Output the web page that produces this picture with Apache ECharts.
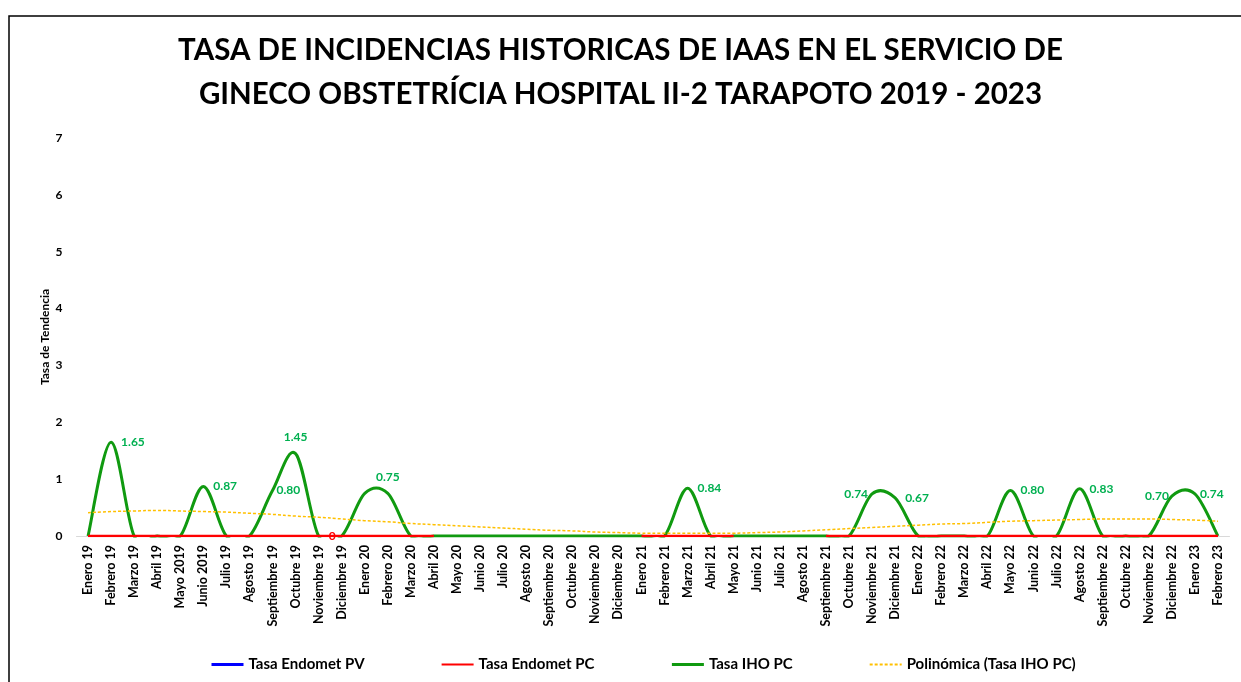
<!DOCTYPE html>
<html>
<head>
<meta charset="utf-8">
<script src="https://cdn.jsdelivr.net/npm/echarts@6/dist/echarts.min.js"></script>
<style>
  html, body { margin: 0; padding: 0; background: #fff; }
  #chart { width: 1241px; height: 682px; }
</style>
</head>
<body>
<div id="chart"></div>
<script>
const months = [
  'Enero 19', 'Febrero 19', 'Marzo 19', 'Abril 19', 'Mayo 2019', 'Junio 2019', 'Julio 19', 'Agosto 19',
  'Septiembre 19', 'Octubre 19', 'Noviembre 19', 'Diciembre 19', 'Enero 20', 'Febrero 20', 'Marzo 20',
  'Abril 20', 'Mayo 20', 'Junio 20', 'Julio 20', 'Agosto 20', 'Septiembre 20', 'Octubre 20', 'Noviembre 20',
  'Diciembre 20', 'Enero 21', 'Febrero 21', 'Marzo 21', 'Abril 21', 'Mayo 21', 'Junio 21', 'Julio 21',
  'Agosto 21', 'Septiembre 21', 'Octubre 21', 'Noviembre 21', 'Diciembre 21', 'Enero 22', 'Febrero 22',
  'Marzo 22', 'Abril 22', 'Mayo 22', 'Junio 22', 'Julio 22', 'Agosto 22', 'Septiembre 22', 'Octubre 22',
  'Noviembre 22', 'Diciembre 22', 'Enero 23', 'Febrero 23'
];

// Tasa Endomet PV (sin datos visibles en el grafico)
const endometPV = [
  null, null, null, null, null, null, null, null, null, null, null, null, null, null, null,
  null, null, null, null, null, null, null, null, null, null, null, null, null, null, null,
  null, null, null, null, null, null, null, null, null, null, null, null, null, null, null,
  null, null, null, null, null
];

// Tasa Endomet PC (huecos donde se ve la linea verde)
const endometPC = [
  0, 0, 0, 0, 0, 0, 0, 0, 0, 0, 0, 0, 0, 0, 0,
  0, null, null, null, null, null, null, null, null, 0, 0, 0, 0, 0, null,
  null, null, 0, 0, 0, 0, 0, 0, 0, 0, 0, 0, 0, 0, 0,
  0, 0, 0, 0, 0
];

// Tasa IHO PC
const ihoPC = [
  0, 1.65, 0, 0, 0, 0.87, 0, 0, 0.80, 1.45, 0, 0, 0.75, 0.75, 0,
  0, 0, 0, 0, 0, 0, 0, 0, 0, 0, 0, 0.84, 0, 0, 0,
  0, 0, 0, 0, 0.74, 0.67, 0, 0, 0, 0, 0.80, 0, 0, 0.83, 0,
  0, 0, 0.70, 0.74, 0
];

// Polinómica (Tasa IHO PC)
const trendIHO = [
  0.41, 0.43, 0.44, 0.45, 0.44, 0.43, 0.42, 0.40, 0.38, 0.35, 0.33, 0.30, 0.27, 0.25, 0.22,
  0.20, 0.18, 0.16, 0.14, 0.12, 0.10, 0.09, 0.07, 0.06, 0.05, 0.05, 0.05, 0.05, 0.05, 0.06,
  0.07, 0.09, 0.11, 0.13, 0.15, 0.17, 0.19, 0.21, 0.22, 0.24, 0.26, 0.27, 0.28, 0.29, 0.30,
  0.30, 0.30, 0.29, 0.28, 0.26
];

const yTicks = [0, 1, 2, 3, 4, 5, 6, 7];

// which points carry a label: [position, distance]
const ihoLabelAt = {
  1: ['right', 10], 5: ['right', 10], 8: ['right', 4], 9: ['top', 10], 13: ['top', 10],
  26: ['right', 10], 34: ['left', 4], 35: ['right', 10], 40: ['right', 10], 43: ['right', 10],
  47: ['left', 3], 48: ['right', 5]
};
const pcLabelAt = { 10: ['right', 10] };

const FONT = 'Lato, "Open Sans", sans-serif';
const GREEN_LINE = '#109a10';

function withLabels(values, where, color) {
  return values.map((v, i) => {
    if (!where[i]) return v;
    return {
      value: v,
      label: {
        show: true,
        position: where[i][0],
        distance: where[i][1],
        color: color,
        fontFamily: FONT,
        fontWeight: 'bold',
        fontSize: 12,
        formatter: (p) => (p.value === 0 ? '0' : p.value.toFixed(2))
      }
    };
  });
}

// Excel-like smoothed line (Catmull-Rom), positioned through the axes
function renderSmooth(params, api) {
  if (params.dataIndex !== 0) return null;
  const pts = ihoPC.map((v, i) => api.coord([i, v]));
  const n = pts.length;
  let d = 'M' + pts[0][0] + ',' + pts[0][1];
  for (let i = 0; i < n - 1; i++) {
    const p0 = pts[Math.max(i - 1, 0)];
    const p1 = pts[i];
    const p2 = pts[i + 1];
    const p3 = pts[Math.min(i + 2, n - 1)];
    const c1x = p1[0] + (p2[0] - p0[0]) / 6;
    const c1y = p1[1] + (p2[1] - p0[1]) / 6;
    const c2x = p2[0] - (p3[0] - p1[0]) / 6;
    const c2y = p2[1] - (p3[1] - p1[1]) / 6;
    d += ' C' + c1x + ',' + c1y + ' ' + c2x + ',' + c2y + ' ' + p2[0] + ',' + p2[1];
  }
  const cs = params.coordSys;
  return {
    type: 'path',
    shape: { pathData: d },
    clipPath: { type: 'rect', shape: { x: cs.x, y: cs.y - 5, width: cs.width, height: cs.height + 6.5 } },
    style: { stroke: GREEN_LINE, lineWidth: 3, fill: null, lineJoin: 'round' }
  };
}

const chart = echarts.init(document.getElementById('chart'), null, { renderer: 'canvas' });

const option = {
  animation: false,
  backgroundColor: '#fff',
  title: {
    text: 'TASA DE INCIDENCIAS HISTORICAS DE IAAS EN EL SERVICIO DE\nGINECO OBSTETRÍCIA HOSPITAL II-2 TARAPOTO 2019 - 2023',
    left: 'center',
    top: 23,
    textStyle: {
      fontFamily: FONT,
      fontWeight: 'bold',
      fontSize: 29.5,
      lineHeight: 44,
      color: '#000'
    }
  },
  legend: {
    left: 205,
    top: 652,
    itemWidth: 32,
    itemHeight: 14,
    itemGap: 76,
    itemStyle: { opacity: 0 },
    textStyle: { fontFamily: FONT, fontWeight: 'bold', fontSize: 15, color: '#000' },
    data: [
      { name: 'Tasa Endomet PV', lineStyle: { color: '#0000ff', width: 3 } },
      { name: 'Tasa Endomet PC' },
      { name: 'Tasa IHO PC', lineStyle: { color: GREEN_LINE, opacity: 1, width: 3 } },
      { name: 'Polinómica (Tasa IHO PC)' }
    ]
  },
  grid: { left: 76.5, right: 11.5, top: 138, bottom: 146 },
  xAxis: {
    type: 'category',
    data: months,
    boundaryGap: true,
    axisLine: { lineStyle: { color: '#d9d9d9', width: 1 } },
    axisTick: { show: false },
    axisLabel: {
      rotate: 90,
      interval: 0,
      margin: 9,
      fontFamily: FONT,
      fontWeight: 'bold',
      fontSize: 12.5,
      color: '#000'
    }
  },
  yAxis: {
    type: 'value',
    min: yTicks[0],
    max: yTicks[yTicks.length - 1],
    interval: 1,
    name: 'Tasa de Tendencia',
    nameLocation: 'middle',
    nameGap: 25,
    nameMoveOverlap: false,
    nameTextStyle: { fontFamily: FONT, fontWeight: 'bold', fontSize: 12, color: '#000' },
    axisLine: { show: false },
    axisTick: { show: false },
    splitLine: { show: false },
    axisLabel: { margin: 14, fontFamily: FONT, fontWeight: 'bold', fontSize: 12, color: '#000' }
  },
  graphic: [{
    type: 'polyline',
    shape: { points: [[9, 682], [9, 16], [1241, 16]] },
    style: { stroke: '#000', lineWidth: 1.5, fill: null }
  }],
  series: [
    {
      name: 'Tasa Endomet PV',
      type: 'line',
      data: endometPV,
      symbol: 'none',
      z: 1,
      color: '#0000ff',
      lineStyle: { color: '#0000ff', width: 2.5 }
    },
    {
      name: 'Tasa Endomet PC',
      type: 'line',
      data: withLabels(endometPC, pcLabelAt, '#ff0000'),
      symbol: 'circle',
      symbolSize: 0,
      showSymbol: true,
      z: 4,
      color: '#ff0000',
      lineStyle: { color: '#ff0000', width: 2.5 }
    },
    {
      // carries the legend entry and the data labels; the curve itself is drawn below
      name: 'Tasa IHO PC',
      type: 'line',
      data: withLabels(ihoPC, ihoLabelAt, '#00b050'),
      symbol: 'circle',
      symbolSize: 0,
      showSymbol: true,
      z: 6,
      color: GREEN_LINE,
      lineStyle: { color: GREEN_LINE, width: 3, opacity: 0 }
    },
    {
      type: 'custom',
      name: 'curva IHO',
      data: ihoPC.map((v, i) => [i, v]),
      renderItem: renderSmooth,
      z: 3,
      silent: true
    },
    {
      name: 'Polinómica (Tasa IHO PC)',
      type: 'line',
      data: trendIHO,
      symbol: 'none',
      smooth: true,
      z: 5,
      color: '#ffc000',
      lineStyle: { color: '#ffc000', width: 1.5, type: [3, 2] }
    }
  ]
};

chart.setOption(option);
</script>
</body>
</html>
